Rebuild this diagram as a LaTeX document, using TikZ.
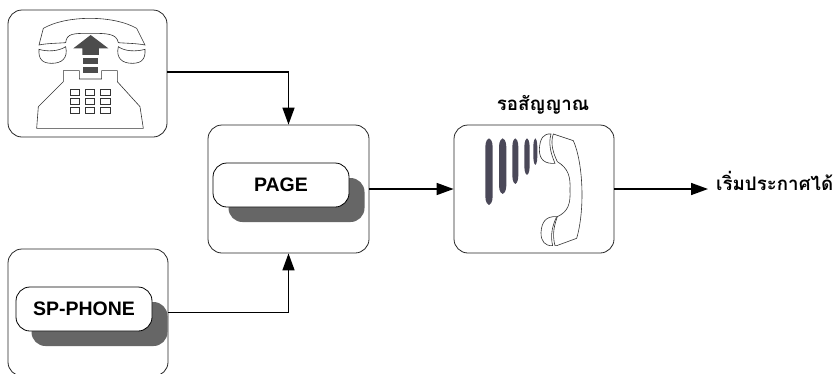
\documentclass[tikz,border=0pt]{standalone}
\usepackage{fontspec}
\setsansfont{Liberation Sans}
\newfontfamily\thaifont[Script=Thai]{Loma}
\usetikzlibrary{arrows.meta}
\definecolor{barcolor}{HTML}{4A4858}

\begin{document}
\begin{tikzpicture}
[x=1pt,y=-1pt,%
  every node/.style={inner sep=0pt},%
  box/.style={draw=black!85,line width=0.8pt,rounded corners=14pt,fill=white,
    minimum width=160pt,minimum height=128pt},%
  keyshadow/.style={fill=black!60,rounded corners=14pt,
    minimum width=136pt,minimum height=44pt},%
  key/.style={draw=black,line width=0.8pt,rounded corners=14pt,fill=white,
    minimum width=136pt,minimum height=44pt,
    font=\sffamily\bfseries\fontsize{19.5}{19.5}\selectfont},%
  thailabel/.style={font=\thaifont\bfseries\fontsize{18.7}{18.7}\selectfont},%
  flow/.style={line width=1.6pt,-{Triangle[length=17pt,width=12pt]}},%
  sketch/.style={line width=0.6pt,draw=black!80,fill=white},%
  arrowmark/.style={fill=black!70,draw=none},%
  signalbar/.style={fill=barcolor,draw=none}]
\useasboundingbox (0,0) rectangle (834,373);
\clip (0,0) rectangle (834,373);

\node[box,minimum width=159pt,minimum height=127pt] (phonebox) at (87.5,73.5) {};
\node[box,minimum height=127pt] (spbox) at (88,312.5) {};
\node[box,minimum width=161pt] (pagebox) at (288.5,189) {};
\node[box] (signalbox) at (534,189) {};

\node[keyshadow] (pageshadow) at (296.5,200) {};
\node[key] (pagekey) at (281,185) {PAGE};
\node[keyshadow] (spshadow) at (99.5,324) {};
\node[key] (spkey) at (84,309) {SP-PHONE};

\node[thailabel] (waitlabel) at (543,104.5) {รอสัญญาณ};
\node[thailabel,anchor=west,inner xsep=8pt] (startlabel) at (708,181) {เริ่มประกาศได้};

\draw[flow] ([yshift=1.5pt]phonebox.east) -| (pagebox.north);
\draw[flow] (spbox.east) -| (pagebox.south);
\draw[flow] (pagebox) -- (signalbox);
\draw[flow] (signalbox.east) -- (signalbox.east -| startlabel.west);

%% telephone, in crop coordinates
\begin{scope}[x=0.3333pt,y=-0.3333pt]
\draw[sketch] (117,135) -- (130,85) .. controls (200,45) and (340,45) .. (410,85)
  -- (435,135) .. controls (410,130) and (380,130) .. (355,128)
  .. controls (350,100) and (320,100) .. (270,100)
  .. controls (220,100) and (200,100) .. (197,128)
  .. controls (170,130) and (140,130) .. (117,135) -- cycle;
\draw[sketch] (117,148) .. controls (140,155) and (175,155) .. (197,140)
  .. controls (205,175) and (185,190) .. (155,190)
  .. controls (125,190) and (115,175) .. (117,148) -- cycle;
\draw[sketch] (435,148) .. controls (410,155) and (375,155) .. (355,140)
  .. controls (347,175) and (367,190) .. (397,190)
  .. controls (427,190) and (437,175) .. (435,148) -- cycle;
\draw[sketch] (190,212) -- (238,212) -- (238,237) -- (305,237) -- (305,212)
  -- (352,212) -- (352,245) -- (420,320) -- (430,385) -- (110,385)
  -- (115,320) -- (190,245) -- cycle;
\foreach \keyx in {210,256,302}
  \foreach \keyy in {268,296,323}
    \draw[sketch] (\keyx,\keyy) rectangle ++(28,17);
\fill[arrowmark] (220,145) -- (272,105) -- (325,145) -- (297,145) -- (297,165)
  -- (247,165) -- (247,145) -- cycle;
\fill[arrowmark] (248,173) rectangle (295,192);
\fill[arrowmark] (248,201) rectangle (295,220);
\end{scope}

%% handset and signal bars
\begin{scope}[shift={(440,90)},x=0.3333pt,y=-0.3333pt]
\foreach \barx/\barw/\barb in {147/11/345,188/11/312,226/9/282,261/8/255,286/6/225}
  \fill[signalbar] (\barx,145)
    .. controls (\barx+\barw,150) and (\barx+\barw,165) .. (\barx+\barw,180)
    -- (\barx+\barw,\barb-35)
    .. controls (\barx+\barw,\barb-20) and (\barx+\barw,\barb-5) .. (\barx,\barb)
    .. controls (\barx-\barw,\barb-5) and (\barx-\barw,\barb-20) .. (\barx-\barw,\barb-35)
    -- (\barx-\barw,180)
    .. controls (\barx-\barw,165) and (\barx-\barw,150) .. (\barx,145) -- cycle;
\draw[sketch] (340,132) -- (400,152) .. controls (430,220) and (435,360) .. (410,445)
  -- (350,467) -- (345,467) .. controls (335,430) and (345,400) .. (352,380)
  .. controls (385,365) and (392,340) .. (390,300)
  .. controls (392,260) and (385,235) .. (352,215)
  .. controls (340,190) and (330,160) .. (340,132) -- cycle;
\draw[sketch] (333,132) .. controls (310,130) and (300,145) .. (298,178)
  .. controls (298,210) and (315,222) .. (345,220)
  .. controls (332,190) and (325,160) .. (333,132) -- cycle;
\draw[sketch] (350,380) .. controls (318,378) and (305,395) .. (303,428)
  .. controls (303,455) and (315,468) .. (338,467)
  .. controls (330,435) and (338,405) .. (350,380) -- cycle;
\end{scope}
\end{tikzpicture}
\end{document}
